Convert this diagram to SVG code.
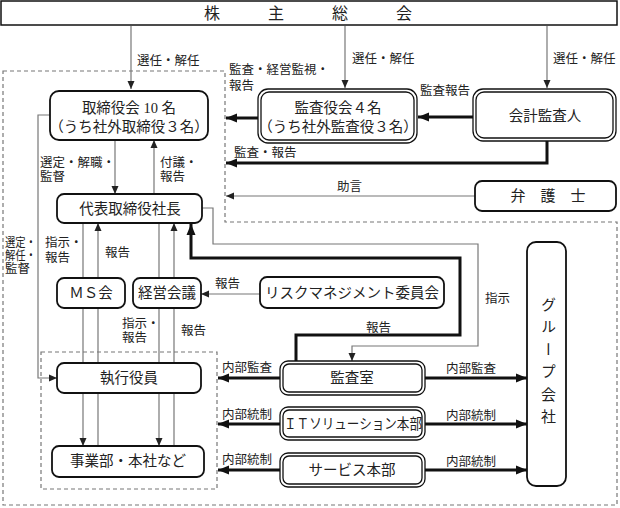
<svg xmlns="http://www.w3.org/2000/svg" width="620" height="508" viewBox="0 0 620 508">
<style>
text{font-family:"Liberation Serif","Noto Sans CJK JP",serif;fill:#222}
.t{font-size:14.5px;text-anchor:middle}
.l{font-size:12.5px}
.box{fill:#fff;stroke:#111;stroke-width:1.8}
.dbl{fill:#fff;stroke:#111;stroke-width:1.3}
.thin{fill:none;stroke:#777;stroke-width:1.2}
.thick{fill:none;stroke:#111;stroke-width:3}
.dash{fill:none;stroke:#777;stroke-width:1.2;stroke-dasharray:4 3}
</style>
<defs>
<marker id="a" markerUnits="userSpaceOnUse" markerWidth="9" markerHeight="8" refX="8" refY="4" orient="auto"><path d="M0,0.5 L8,4 L0,7.5 z" fill="#222"/></marker>
<marker id="b" markerUnits="userSpaceOnUse" markerWidth="12" markerHeight="10" refX="11" refY="5" orient="auto"><path d="M0,0.5 L11,5 L0,9.5 z" fill="#111"/></marker>
</defs>

<g id="regions">
<path class="dash" d="M3,71 H225 V222 H617 V505 H3 Z"/>
<rect class="dash" x="41" y="352" width="176" height="137"/>
</g>

<g id="connectors">
<path class="thin" d="M131,26 V89" marker-end="url(#a)"/>
<path class="thin" d="M345,26 V88" marker-end="url(#a)"/>
<path class="thin" d="M547,26 V88" marker-end="url(#a)"/>
<path class="thin" d="M115,140 V194" marker-end="url(#a)"/>
<path class="thin" d="M154,194 V140" marker-end="url(#a)"/>
<path class="thin" d="M50,115 H38 V378 H57" marker-end="url(#a)"/>
<path class="thin" d="M83,223 V446" marker-end="url(#a)"/>
<path class="thin" d="M98,446 V223" marker-end="url(#a)"/>
<path class="thin" d="M159,223 V446" marker-end="url(#a)"/>
<path class="thin" d="M174,446 V223" marker-end="url(#a)"/>
<path class="thin" d="M475,196 H226" marker-end="url(#a)"/>
<path class="thin" d="M260,294 H201" marker-end="url(#a)"/>
<path class="thin" d="M202,208 H213 V244 H478 V346 H352 V361" marker-end="url(#a)"/>
<path class="thick" d="M473,117 H418" marker-end="url(#b)"/>
<path class="thick" d="M258,118 H226" marker-end="url(#b)"/>
<path class="thick" d="M547,141 V163 H226" marker-end="url(#b)"/>
<path class="thick" d="M296,361 V335 H460 V258 H191 V224" marker-end="url(#b)"/>
<path class="thick" d="M425,378 H527" marker-end="url(#b)"/>
<path class="thick" d="M425,424 H527" marker-end="url(#b)"/>
<path class="thick" d="M425,470 H527" marker-end="url(#b)"/>
<path class="thick" d="M280,378 H218" marker-end="url(#b)"/>
<path class="thick" d="M280,424 H218" marker-end="url(#b)"/>
<path class="thick" d="M280,470 H218" marker-end="url(#b)"/>
</g>

<g id="labels" class="l">
<text x="137" y="65">選任・解任</text>
<text x="352" y="63">選任・解任</text>
<text x="553" y="63">選任・解任</text>
<text x="229" y="74">監査・経営監視・</text>
<text x="229" y="90">報告</text>
<text x="420" y="95">監査報告</text>
<text x="234" y="157">監査・報告</text>
<text x="337" y="191">助言</text>
<text x="40" y="167">選定・解職・</text>
<text x="40" y="181">監督</text>
<text x="160" y="167">付議・</text>
<text x="160" y="181">報告</text>
<text x="5" y="247" textLength="31" lengthAdjust="spacingAndGlyphs">選定・</text>
<text x="5" y="260" textLength="31" lengthAdjust="spacingAndGlyphs">解任・</text>
<text x="5" y="273">監督</text>
<text x="45" y="247">指示・</text>
<text x="45" y="262">報告</text>
<text x="105" y="257">報告</text>
<text x="122" y="328">指示・</text>
<text x="122" y="342">報告</text>
<text x="181" y="335">報告</text>
<text x="215" y="288">報告</text>
<text x="485" y="303">指示</text>
<text x="366" y="332">報告</text>
<text x="222" y="372">内部監査</text>
<text x="222" y="419">内部統制</text>
<text x="222" y="464">内部統制</text>
<text x="446" y="373">内部監査</text>
<text x="446" y="420">内部統制</text>
<text x="446" y="466">内部統制</text>
</g>

<g id="shareholders">
<rect x="1" y="1" width="616" height="24" fill="#fff" stroke="#111" stroke-width="1.5"/>
<text x="308" y="19" style="font-size:16px;text-anchor:middle">株　　　主　　　総　　　会</text>
</g>

<g id="board">
<rect class="box" x="50" y="91" width="158" height="49" rx="9"/>
<text class="t" x="129" y="113">取締役会 10 名</text>
<text class="t" x="129" y="132">（うち社外取締役３名）</text>
</g>

<g id="auditboard">
<rect class="dbl" x="258" y="89" width="159" height="54" rx="10"/>
<rect class="dbl" x="261" y="92" width="153" height="48" rx="8"/>
<text class="t" x="338" y="113">監査役会４名</text>
<text class="t" x="338" y="132">（うち社外監査役３名）</text>
</g>

<g id="accountant">
<rect class="dbl" x="473" y="89" width="143" height="52" rx="10"/>
<rect class="dbl" x="476" y="92" width="137" height="46" rx="8"/>
<text class="t" x="545" y="121">会計監査人</text>
</g>

<g id="lawyer">
<rect class="box" x="475" y="181" width="141" height="30" rx="7"/>
<text x="548" y="201" style="font-size:15px;text-anchor:middle">弁　護　士</text>
</g>

<g id="president">
<rect class="box" x="57" y="194" width="145" height="29" rx="7"/>
<text class="t" x="130" y="214">代表取締役社長</text>
</g>

<g id="ms">
<rect class="box" x="57" y="278" width="68" height="30" rx="7"/>
<text class="t" x="91" y="298">ＭＳ会</text>
</g>

<g id="mgmt">
<rect class="box" x="133" y="278" width="68" height="30" rx="7"/>
<text class="t" x="167" y="298">経営会議</text>
</g>

<g id="risk">
<rect class="box" x="260" y="277" width="184" height="31" rx="7"/>
<text class="t" x="352" y="298">リスクマネジメント委員会</text>
</g>

<g id="officers">
<rect class="box" x="57" y="363" width="144" height="30" rx="7"/>
<text class="t" x="129" y="383">執行役員</text>
</g>

<g id="divisions">
<rect class="box" x="52" y="446" width="152" height="31" rx="7"/>
<text class="t" x="128" y="466">事業部・本社など</text>
</g>

<g id="auditroom">
<rect class="dbl" x="280" y="361" width="145" height="34" rx="8"/>
<rect class="dbl" x="283" y="364" width="139" height="28" rx="6"/>
<text class="t" x="352" y="383">監査室</text>
</g>

<g id="it">
<rect class="dbl" x="280" y="407" width="145" height="33" rx="8"/>
<rect class="dbl" x="283" y="410" width="139" height="27" rx="6"/>
<text class="t" x="353" y="429" textLength="138" lengthAdjust="spacingAndGlyphs">ＩＴソリューション本部</text>
</g>

<g id="service">
<rect class="dbl" x="280" y="453" width="145" height="34" rx="8"/>
<rect class="dbl" x="283" y="456" width="139" height="28" rx="6"/>
<text class="t" x="352" y="475">サービス本部</text>
</g>

<g id="group">
<rect class="box" x="527" y="242" width="39" height="244" rx="9"/>
<text x="547" y="364" style="font-size:15px;text-anchor:middle;writing-mode:vertical-rl;letter-spacing:7.5px">グループ会社</text>
</g>
</svg>
